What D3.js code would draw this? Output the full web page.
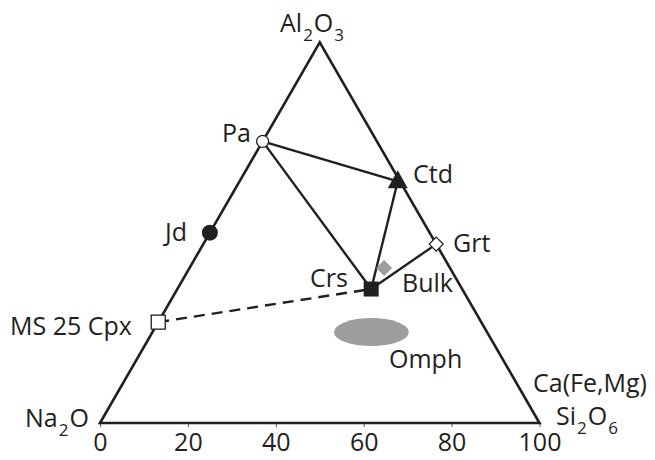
<!DOCTYPE html>
<html>
<head>
<meta charset="utf-8">
<script src="https://cdn.jsdelivr.net/npm/d3@7"></script>
<style>
  html, body { margin: 0; padding: 0; background: #fff; }
  svg text { font-family: "Open Sans", "Noto Sans", sans-serif; fill: #231f20; }
</style>
</head>
<body>
<svg id="chart" width="655" height="460"></svg>
<script>
// Bottom axis ticks (% Ca(Fe,Mg)Si2O6 along the Na2O base)
const tickValues = [0, 20, 40, 60, 80, 100];

// Phase compositions as ternary fractions [Al2O3, Na2O, Ca(Fe,Mg)Si2O6]
const phaseNames = ["Pa", "Jd", "MS 25 Cpx", "Ctd", "Grt", "Crs", "Bulk", "Omph"];
const alFrac   = [0.740, 0.500, 0.265, 0.635, 0.470, 0.352, 0.407, 0.239];
const naFrac   = [0.260, 0.500, 0.735, 0.005, 0.000, 0.207, 0.150, 0.263];
const caFrac   = [0.000, 0.000, 0.000, 0.360, 0.530, 0.441, 0.443, 0.498];
const symbols  = ["openCircle", "filledCircle", "openSquare", "filledTriangle",
                  "openDiamond", "filledSquare", "grayDiamond", "grayEllipse"];

// Tie lines between phases
const tieLines    = [["Pa", "Ctd"], ["Pa", "Crs"], ["Ctd", "Crs"], ["Crs", "Grt"]];
const dashedLines = [["MS 25 Cpx", "Crs"]];

const svg = d3.select("#chart");
const x = d3.scaleLinear().domain([0, 100]).range([100, 539.5]);
const y = d3.scaleLinear().domain([0, 1]).range([423, 42.4]);

// ternary -> screen
function pos(al, ca) {
  return [x(100 * (ca + al / 2)), y(al)];
}
const phases = phaseNames.map((n, i) => {
  const p = pos(alFrac[i], caFrac[i]);
  return { name: n, al: alFrac[i], na: naFrac[i], ca: caFrac[i], sym: symbols[i], x: p[0], y: p[1] };
});
const byName = Object.fromEntries(phases.map(p => [p.name, p]));

// Axis ticks
const axis = d3.axisBottom(x).tickValues(tickValues).tickSize(4).tickPadding(6).tickFormat(d3.format("d"));
const gAxis = svg.append("g").attr("transform", `translate(0,${y(0)})`).call(axis);
gAxis.select(".domain").remove();
gAxis.selectAll(".tick line").attr("stroke", "#555").attr("stroke-width", 1);
gAxis.selectAll(".tick text").attr("font-size", 25).attr("font-family", "Open Sans, sans-serif")
  .attr("fill", "#231f20").attr("dy", "0.72em");

// Triangle frame
const A = pos(1, 0), N = pos(0, 0), C = pos(0, 1);
svg.append("path")
  .attr("d", d3.line()([N, C, A]) + "Z")
  .attr("fill", "none").attr("stroke", "#231f20").attr("stroke-width", 2.6)
  .attr("stroke-linejoin", "miter");

const line = d3.line();

// Omphacite field
const om = byName["Omph"];
svg.append("ellipse").attr("cx", om.x).attr("cy", om.y).attr("rx", 37.5).attr("ry", 14)
  .attr("fill", "#9d9d9d");

// Tie lines
const seg = d => line([[byName[d[0]].x, byName[d[0]].y], [byName[d[1]].x, byName[d[1]].y]]);
svg.selectAll("path.tie").data(tieLines).join("path").attr("class", "tie")
  .attr("d", seg).attr("stroke", "#231f20").attr("stroke-width", 2.4).attr("fill", "none");
svg.selectAll("path.dash").data(dashedLines).join("path").attr("class", "dash")
  .attr("d", seg).attr("stroke", "#231f20").attr("stroke-width", 2.4)
  .attr("stroke-dasharray", "11,7").attr("fill", "none");

// Symbols
phases.forEach(p => {
  const g = svg.append("g").attr("transform", `translate(${p.x},${p.y})`);
  switch (p.sym) {
    case "openCircle":
      g.append("circle").attr("r", 6).attr("fill", "#fff").attr("stroke", "#231f20").attr("stroke-width", 1.3);
      break;
    case "filledCircle":
      g.append("circle").attr("r", 8).attr("fill", "#231f20");
      break;
    case "openSquare":
      g.append("rect").attr("x", -7).attr("y", -7).attr("width", 14).attr("height", 14)
        .attr("fill", "#fff").attr("stroke", "#231f20").attr("stroke-width", 1.3);
      break;
    case "filledTriangle":
      g.append("path").attr("d", "M0,-11L10,7L-10,7Z").attr("fill", "#231f20");
      break;
    case "openDiamond":
      g.append("path").attr("d", "M0,-7L7,0L0,7L-7,0Z").attr("fill", "#fff")
        .attr("stroke", "#231f20").attr("stroke-width", 1.3);
      break;
    case "filledSquare":
      g.append("rect").attr("x", -7.5).attr("y", -7.5).attr("width", 15).attr("height", 15).attr("fill", "#231f20");
      break;
    case "grayDiamond":
      g.append("path").attr("d", "M0,-8L8,0L0,8L-8,0Z").attr("fill", "#9d9d9d");
      break;
  }
});

// Phase labels
const labels = [
  { t: "Pa", x: 222, y: 142 },
  { t: "Jd", x: 165, y: 241 },
  { t: "MS 25 Cpx", x: 10, y: 335 },
  { t: "Ctd", x: 413, y: 183 },
  { t: "Grt", x: 453, y: 252 },
  { t: "Crs", x: 310, y: 287 },
  { t: "Bulk", x: 402, y: 292 },
  { t: "Omph", x: 389, y: 368 },
  { t: "Ca(Fe,Mg)", x: 533, y: 392 }
];
svg.selectAll("text.lbl").data(labels).join("text").attr("class", "lbl")
  .attr("x", d => d.x).attr("y", d => d.y).attr("font-size", 25).text(d => d.t);

// Formula labels with subscripts
function formula(xp, yp, parts, size, subSize) {
  const t = svg.append("text").attr("x", xp).attr("y", yp).attr("font-size", size);
  let prevSub = false;
  parts.forEach(([s, sub]) => {
    const span = t.append("tspan").text(s);
    if (sub) span.attr("font-size", subSize).attr("dy", 9).attr("dx", 1);
    else if (prevSub) span.attr("dy", -9).attr("dx", 1);
    prevSub = !!sub;
  });
}
formula(280, 32, [["Al"], ["2", 1], ["O"], ["3", 1]], 25, 17);
formula(25, 427, [["Na"], ["2", 1], ["O"]], 25, 17);
formula(556, 425, [["Si"], ["2", 1], ["O"], ["6", 1]], 25, 17);
</script>
</body>
</html>
